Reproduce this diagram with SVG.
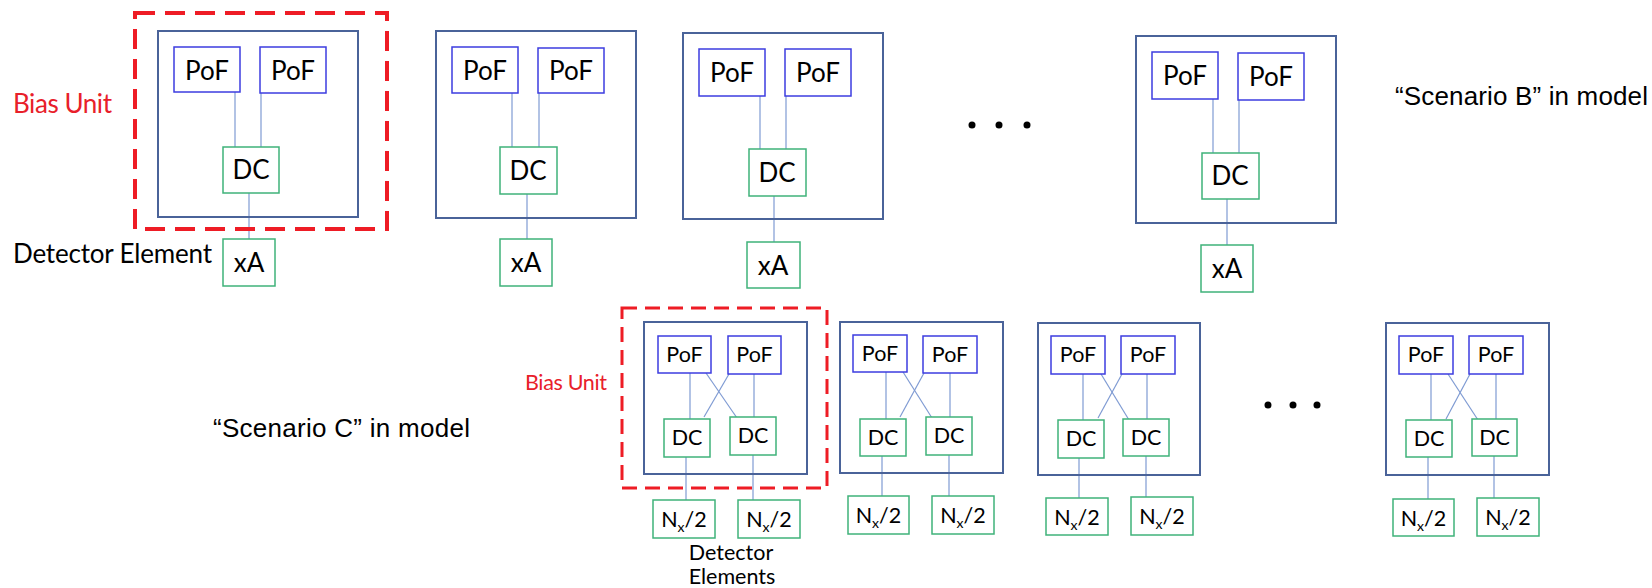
<svg xmlns="http://www.w3.org/2000/svg" width="1652" height="588" viewBox="0 0 1652 588">
<style>
.unit{fill:none;stroke:#4a6399;stroke-width:2}
.pof{fill:#fff;stroke:#3d3de0;stroke-width:1.5}
.dc{fill:#fff;stroke:#3fb27a;stroke-width:1.5}
.conn line{stroke:#7f9bd3;stroke-width:1.2}
.bias{fill:none;stroke:#ee1c25;stroke-width:4;stroke-dasharray:20 10}
.bias2{fill:none;stroke:#ee1c25;stroke-width:3;stroke-dasharray:15 8}
.t{font-family:Lato,'Liberation Sans',sans-serif;font-size:26px;fill:#000;text-anchor:middle}
.s{font-family:Lato,'Liberation Sans',sans-serif;font-size:21.5px;fill:#000;text-anchor:middle}
.sub{font-size:14px}
.red{fill:#e8202a}
.ar{font-family:'Liberation Sans',Arial,sans-serif;font-size:26px;fill:#000}
.dot{fill:#000}
</style>

<g id="connectors" class="conn">
<line x1="235" y1="92" x2="235" y2="147"/>
<line x1="261" y1="93" x2="261" y2="147"/>
<line x1="249" y1="193" x2="249" y2="239"/>
<line x1="512" y1="93" x2="512" y2="147"/>
<line x1="539" y1="93" x2="539" y2="147"/>
<line x1="527" y1="194" x2="527" y2="239"/>
<line x1="760" y1="96" x2="760" y2="149"/>
<line x1="786" y1="96" x2="786" y2="149"/>
<line x1="774" y1="196" x2="774" y2="242"/>
<line x1="1213" y1="99" x2="1213" y2="153"/>
<line x1="1239" y1="100" x2="1239" y2="153"/>
<line x1="1227" y1="199" x2="1227" y2="245"/>

<line x1="690" y1="373" x2="690" y2="419"/>
<line x1="754" y1="374" x2="754" y2="417"/>
<line x1="706" y1="373" x2="737" y2="418"/>
<line x1="729" y1="374" x2="704" y2="417"/>
<line x1="686" y1="457" x2="686" y2="500"/>
<line x1="753" y1="455" x2="753" y2="500"/>

<line x1="886" y1="372" x2="886" y2="419"/>
<line x1="950" y1="373" x2="950" y2="417"/>
<line x1="903" y1="372" x2="932" y2="418"/>
<line x1="924" y1="373" x2="900" y2="417"/>
<line x1="882" y1="456" x2="882" y2="496"/>
<line x1="949" y1="455" x2="949" y2="496"/>

<line x1="1083" y1="374" x2="1083" y2="420"/>
<line x1="1147" y1="374" x2="1147" y2="419"/>
<line x1="1101" y1="374" x2="1129" y2="420"/>
<line x1="1122" y1="374" x2="1098" y2="418"/>
<line x1="1079" y1="458" x2="1079" y2="498"/>
<line x1="1146" y1="456" x2="1146" y2="497"/>

<line x1="1431" y1="374" x2="1431" y2="420"/>
<line x1="1496" y1="374" x2="1496" y2="419"/>
<line x1="1448" y1="374" x2="1478" y2="420"/>
<line x1="1470" y1="374" x2="1446" y2="419"/>
<line x1="1428" y1="457" x2="1428" y2="499"/>
<line x1="1494" y1="456" x2="1494" y2="498"/>
</g>

<!-- Top row -->
<g id="biasUnitB1">
<rect class="bias" x="135" y="13" width="252" height="216"/>
<rect class="unit" x="158" y="31" width="200" height="186"/>
</g>
<g id="b1pof1"><rect class="pof" x="174" y="47" width="66" height="45"/><text class="t" x="207" y="80">PoF</text></g>
<g id="b1pof2"><rect class="pof" x="260" y="47" width="66" height="46"/><text class="t" x="293" y="80">PoF</text></g>
<g id="b1dc"><rect class="dc" x="223" y="147" width="56" height="46"/><text class="t" x="251" y="179">DC</text></g>
<g id="b1xa"><rect class="dc" x="223" y="239" width="52" height="47"/><text class="t" x="249" y="272">xA</text></g>

<g id="unitB2"><rect class="unit" x="436" y="31" width="200" height="187"/></g>
<g id="b2pof1"><rect class="pof" x="452" y="47" width="66" height="46"/><text class="t" x="485" y="80">PoF</text></g>
<g id="b2pof2"><rect class="pof" x="538" y="48" width="66" height="45"/><text class="t" x="571" y="80">PoF</text></g>
<g id="b2dc"><rect class="dc" x="500" y="147" width="57" height="47"/><text class="t" x="528" y="180">DC</text></g>
<g id="b2xa"><rect class="dc" x="500" y="239" width="52" height="47"/><text class="t" x="526" y="272">xA</text></g>

<g id="unitB3"><rect class="unit" x="683" y="33" width="200" height="186"/></g>
<g id="b3pof1"><rect class="pof" x="699" y="49" width="66" height="47"/><text class="t" x="732" y="82">PoF</text></g>
<g id="b3pof2"><rect class="pof" x="785" y="49" width="66" height="47"/><text class="t" x="818" y="82">PoF</text></g>
<g id="b3dc"><rect class="dc" x="749" y="149" width="57" height="47"/><text class="t" x="777" y="182">DC</text></g>
<g id="b3xa"><rect class="dc" x="747" y="242" width="53" height="46"/><text class="t" x="773" y="275">xA</text></g>

<g id="dotsTop"><circle class="dot" cx="972" cy="125" r="3.5"/><circle class="dot" cx="999" cy="125" r="3.5"/><circle class="dot" cx="1027" cy="125" r="3.5"/></g>

<g id="unitB4"><rect class="unit" x="1136" y="36" width="200" height="187"/></g>
<g id="b4pof1"><rect class="pof" x="1152" y="52" width="66" height="47"/><text class="t" x="1185" y="85">PoF</text></g>
<g id="b4pof2"><rect class="pof" x="1238" y="53" width="66" height="47"/><text class="t" x="1271" y="86">PoF</text></g>
<g id="b4dc"><rect class="dc" x="1202" y="153" width="57" height="46"/><text class="t" x="1230" y="185">DC</text></g>
<g id="b4xa"><rect class="dc" x="1201" y="245" width="52" height="47"/><text class="t" x="1227" y="278">xA</text></g>

<g id="labelsTop">
<text class="t red" x="13" y="113" style="text-anchor:start" textLength="99">Bias Unit</text>
<text class="t" x="13" y="263" style="text-anchor:start" textLength="199">Detector Element</text>
<text class="ar" x="1395" y="105" textLength="253">“Scenario B” in model</text>
</g>

<!-- Bottom row -->
<g id="biasUnitC1">
<rect class="bias2" x="622" y="308" width="205" height="180"/>
<rect class="unit" x="644" y="322" width="163" height="152"/>
</g>
<g id="c1pof1"><rect class="pof" x="658" y="336" width="53" height="37"/><text class="s" x="684.5" y="362">PoF</text></g>
<g id="c1pof2"><rect class="pof" x="728" y="336" width="53" height="38"/><text class="s" x="754.5" y="362">PoF</text></g>
<g id="c1dc1"><rect class="dc" x="664" y="419" width="46" height="38"/><text class="s" x="687" y="445">DC</text></g>
<g id="c1dc2"><rect class="dc" x="730" y="417" width="46" height="38"/><text class="s" x="753" y="443">DC</text></g>
<g id="c1n1"><rect class="dc" x="653" y="500" width="62" height="38"/><text class="s" x="684" y="527">N<tspan class="sub" dy="5">x</tspan><tspan dy="-5">/2</tspan></text></g>
<g id="c1n2"><rect class="dc" x="738" y="500" width="62" height="38"/><text class="s" x="769" y="527">N<tspan class="sub" dy="5">x</tspan><tspan dy="-5">/2</tspan></text></g>

<g id="unitC2"><rect class="unit" x="840" y="322" width="163" height="151"/></g>
<g id="c2pof1"><rect class="pof" x="853" y="335" width="54" height="37"/><text class="s" x="880" y="361">PoF</text></g>
<g id="c2pof2"><rect class="pof" x="923" y="336" width="54" height="37"/><text class="s" x="950" y="362">PoF</text></g>
<g id="c2dc1"><rect class="dc" x="860" y="419" width="46" height="37"/><text class="s" x="883" y="445">DC</text></g>
<g id="c2dc2"><rect class="dc" x="926" y="417" width="46" height="38"/><text class="s" x="949" y="443">DC</text></g>
<g id="c2n1"><rect class="dc" x="848" y="496" width="61" height="38"/><text class="s" x="878.5" y="523">N<tspan class="sub" dy="5">x</tspan><tspan dy="-5">/2</tspan></text></g>
<g id="c2n2"><rect class="dc" x="932" y="496" width="62" height="38"/><text class="s" x="963" y="523">N<tspan class="sub" dy="5">x</tspan><tspan dy="-5">/2</tspan></text></g>

<g id="unitC3"><rect class="unit" x="1038" y="323" width="162" height="152"/></g>
<g id="c3pof1"><rect class="pof" x="1051" y="336" width="54" height="38"/><text class="s" x="1078" y="362">PoF</text></g>
<g id="c3pof2"><rect class="pof" x="1121" y="336" width="54" height="38"/><text class="s" x="1148" y="362">PoF</text></g>
<g id="c3dc1"><rect class="dc" x="1058" y="420" width="46" height="38"/><text class="s" x="1081" y="446">DC</text></g>
<g id="c3dc2"><rect class="dc" x="1123" y="419" width="46" height="37"/><text class="s" x="1146" y="445">DC</text></g>
<g id="c3n1"><rect class="dc" x="1046" y="498" width="62" height="37"/><text class="s" x="1077" y="525">N<tspan class="sub" dy="5">x</tspan><tspan dy="-5">/2</tspan></text></g>
<g id="c3n2"><rect class="dc" x="1131" y="497" width="62" height="38"/><text class="s" x="1162" y="524">N<tspan class="sub" dy="5">x</tspan><tspan dy="-5">/2</tspan></text></g>

<g id="dotsBottom"><circle class="dot" cx="1268" cy="405" r="3.5"/><circle class="dot" cx="1293" cy="405" r="3.5"/><circle class="dot" cx="1317" cy="405" r="3.5"/></g>

<g id="unitC4"><rect class="unit" x="1386" y="323" width="163" height="152"/></g>
<g id="c4pof1"><rect class="pof" x="1399" y="336" width="54" height="38"/><text class="s" x="1426" y="362">PoF</text></g>
<g id="c4pof2"><rect class="pof" x="1469" y="336" width="54" height="38"/><text class="s" x="1496" y="362">PoF</text></g>
<g id="c4dc1"><rect class="dc" x="1406" y="420" width="46" height="37"/><text class="s" x="1429" y="446">DC</text></g>
<g id="c4dc2"><rect class="dc" x="1472" y="419" width="45" height="37"/><text class="s" x="1494.5" y="445">DC</text></g>
<g id="c4n1"><rect class="dc" x="1393" y="499" width="61" height="37"/><text class="s" x="1423.5" y="526">N<tspan class="sub" dy="5">x</tspan><tspan dy="-5">/2</tspan></text></g>
<g id="c4n2"><rect class="dc" x="1477" y="498" width="62" height="38"/><text class="s" x="1508" y="525">N<tspan class="sub" dy="5">x</tspan><tspan dy="-5">/2</tspan></text></g>

<g id="labelsBottom">
<text class="s red" x="525" y="390" style="text-anchor:start" textLength="82">Bias Unit</text>
<text class="s" x="731" y="560">Detector</text>
<text class="s" x="732" y="584">Elements</text>
<text class="ar" x="213" y="437" textLength="257">“Scenario C” in model</text>
</g>
</svg>
